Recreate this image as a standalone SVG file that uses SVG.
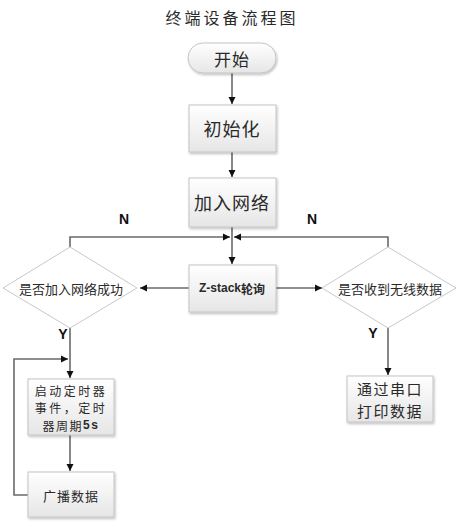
<svg xmlns="http://www.w3.org/2000/svg" width="460" height="527" viewBox="0 0 460 527">
<style>
.box{fill:url(#g);stroke:#c4c4c4;stroke-width:1;filter:url(#sh)}
.dia{fill:#fff;stroke:#c8c8c8;stroke-width:1}
.c{fill:none;stroke:#6a6a6a;stroke-width:1.6}
.t{font-family:"Noto Sans CJK SC",sans-serif;fill:#2a2a2a;text-anchor:middle;dominant-baseline:central}
.lb{font-family:"Liberation Sans",Arial,sans-serif;font-weight:bold;font-size:14px;fill:#111;text-anchor:middle;dominant-baseline:central}
</style>
<defs>
<linearGradient id="g" x1="0" y1="0" x2="0" y2="1"><stop offset="0" stop-color="#ffffff"/><stop offset="1" stop-color="#e6e6e6"/></linearGradient>
<filter id="sh" x="-10%" y="-10%" width="130%" height="130%"><feDropShadow dx="1" dy="1.5" stdDeviation="0.8" flood-color="#000" flood-opacity="0.25"/></filter>
<marker id="a" markerWidth="8" markerHeight="8" refX="7" refY="4" orient="auto" markerUnits="userSpaceOnUse"><path d="M0,0.5 L7,4 L0,7.5 Z" fill="#111"/></marker>
</defs>
<rect width="460" height="527" fill="#fff"/>
<text x="232" y="17" class="t" font-size="16" letter-spacing="3">终端设备流程图</text>

<g id="connectors">
<line class="c" x1="232" y1="73" x2="232" y2="104" marker-end="url(#a)"/>
<line class="c" x1="232" y1="152" x2="232" y2="177" marker-end="url(#a)"/>
<line class="c" x1="232" y1="227" x2="232" y2="264" marker-end="url(#a)"/>
<polyline class="c" points="70,247 70,237 230,237" marker-end="url(#a)"/>
<polyline class="c" points="388,247 388,237 234,237" marker-end="url(#a)"/>
<line class="c" x1="189" y1="288" x2="140" y2="288" marker-end="url(#a)"/>
<line class="c" x1="276" y1="288" x2="322" y2="288" marker-end="url(#a)"/>
<line class="c" x1="70" y1="328" x2="70" y2="378" marker-end="url(#a)"/>
<line class="c" x1="70" y1="435" x2="70" y2="471" marker-end="url(#a)"/>
<polyline class="c" points="28,495 14,495 14,359 68,359" marker-end="url(#a)"/>
<line class="c" x1="388" y1="328" x2="388" y2="375" marker-end="url(#a)"/>
<text x="124" y="219" class="lb">N</text>
<text x="312" y="219" class="lb">N</text>
<text x="63" y="334" class="lb">Y</text>
<text x="373" y="333" class="lb">Y</text>
</g>

<g id="start"><rect class="box" x="188" y="43" width="88" height="30" rx="15"/><text x="232" y="58" class="t" font-size="17" letter-spacing="1">开始</text></g>
<g id="init"><rect class="box" x="189" y="105" width="87" height="47"/><text x="232" y="128" class="t" font-size="18" letter-spacing="1">初始化</text></g>
<g id="join"><rect class="box" x="189" y="178" width="87" height="49"/><text x="232" y="202" class="t" font-size="18" letter-spacing="1">加入网络</text></g>
<g id="poll"><rect class="box" x="189" y="265" width="87" height="47"/><text x="232" y="288" class="t" font-size="12" font-weight="bold"><tspan font-family="Liberation Sans,Arial,sans-serif">Z-stack</tspan>轮询</text></g>
<g id="joinok"><polygon class="dia" points="70,247 137,288 70,328 3,288"/><text x="71" y="288" class="t" font-size="13">是否加入网络成功</text></g>
<g id="recv"><polygon class="dia" points="388,247 456,288 388,328 322,288"/><text x="390" y="288" class="t" font-size="13">是否收到无线数据</text></g>
<g id="timer"><rect class="box" x="28" y="379" width="86" height="56"/>
<text x="71" y="390" class="t" font-size="12" letter-spacing="2.5">启动定时器</text>
<text x="71" y="407.5" class="t" font-size="12" letter-spacing="2.5">事件，定时</text>
<text x="71" y="425" class="t" font-size="12" letter-spacing="1.5">器周期<tspan font-family="Liberation Sans,Arial,sans-serif" font-weight="bold">5s</tspan></text></g>
<g id="bcast"><rect class="box" x="28" y="472" width="86" height="45"/><text x="71" y="495" class="t" font-size="13" letter-spacing="1">广播数据</text></g>
<g id="print"><rect class="box" x="347" y="376" width="86" height="46"/>
<text x="390" y="388" class="t" font-size="15" letter-spacing="1.5">通过串口</text>
<text x="390" y="410" class="t" font-size="15" letter-spacing="1.5">打印数据</text></g>
</svg>
